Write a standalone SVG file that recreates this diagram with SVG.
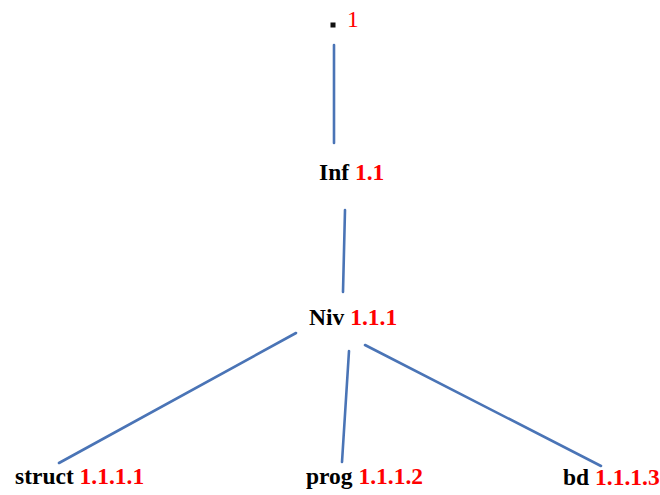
<svg xmlns="http://www.w3.org/2000/svg" width="660" height="495" viewBox="0 0 660 495">
  <style>
    .edge { stroke: #4a74b6; stroke-width: 2.6; stroke-linecap: round; fill: none; }
    .lbl { font-family: "Liberation Serif", "Times New Roman", serif; font-size: 23.5px; font-weight: bold; fill: #000; }
    .num { fill: #ff0000; }
  </style>
  <rect width="660" height="495" fill="#fff"/>

  <g id="connectors">
    <line class="edge" x1="334" y1="45" x2="334" y2="143"/>
    <line class="edge" x1="345" y1="210" x2="343" y2="292"/>
    <line class="edge" x1="296" y1="333" x2="59" y2="463"/>
    <line class="edge" x1="349" y1="351" x2="342" y2="462"/>
    <line class="edge" x1="365" y1="345" x2="601" y2="466"/>
  </g>

  <g id="root">
    <rect x="330.5" y="22.5" width="5" height="5" fill="#111"/>
    <text x="347" y="27" font-family="Liberation Serif, serif" font-size="23.5" fill="#ff0000">1</text>
  </g>

  <g id="inf">
    <text class="lbl" x="319" y="180">Inf <tspan class="num">1.1</tspan></text>
  </g>

  <g id="niv">
    <text class="lbl" x="309" y="325">Niv <tspan class="num">1.1.1</tspan></text>
  </g>

  <g id="struct">
    <text class="lbl" x="15" y="484">struct <tspan class="num">1.1.1.1</tspan></text>
  </g>

  <g id="prog">
    <text class="lbl" x="306" y="484">prog <tspan class="num">1.1.1.2</tspan></text>
  </g>

  <g id="bd">
    <text class="lbl" x="563" y="485">bd <tspan class="num">1.1.1.3</tspan></text>
  </g>
</svg>
